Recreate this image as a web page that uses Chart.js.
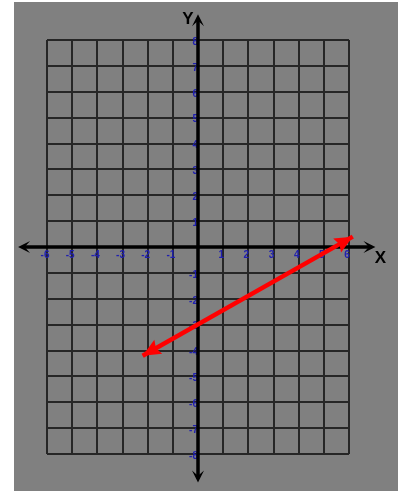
<!DOCTYPE html>
<html>
<head>
<meta charset="utf-8">
<script src="https://cdn.jsdelivr.net/npm/chart.js@4.4.1/dist/chart.umd.min.js"></script>
<style>
html,body{margin:0;padding:0;background:#ffffff;}
canvas{display:block;}
</style>
</head>
<body>
<canvas id="c" width="403" height="491"></canvas>
<script>
// ---- data ----
const xTicks = [-6,-5,-4,-3,-2,-1,0,1,2,3,4,5,6];
const yTicks = [-8,-7,-6,-5,-4,-3,-2,-1,0,1,2,3,4,5,6,7,8];
const lineX = [-2.2, 6.15];
const lineY = [-4.2, 0.4];
const axisLabels = ['X','Y'];

const linePoints = lineX.map((x,i)=>({x:x, y:lineY[i]}));

const bgPlugin = {
  id:'bg',
  beforeDraw(chart){
    const ctx = chart.ctx;
    ctx.save();
    ctx.fillStyle = '#ffffff';
    ctx.fillRect(0,0,chart.width,chart.height);
    ctx.fillStyle = '#808080';
    ctx.fillRect(14,2,384,chart.height-2);
    ctx.restore();
  }
};

function arrowHead(ctx, tx, ty, angle, L, W, notch){
  ctx.save();
  ctx.translate(tx, ty);
  ctx.rotate(angle);
  ctx.beginPath();
  ctx.moveTo(0,0);
  ctx.lineTo(-L,-W);
  ctx.lineTo(-L*notch,0);
  ctx.lineTo(-L,W);
  ctx.closePath();
  ctx.fill();
  ctx.restore();
}

const axesPlugin = {
  id:'axesArrows',
  beforeDatasetsDraw(chart){
    const ctx = chart.ctx;
    const xs = chart.scales.x, ys = chart.scales.y;
    const x0 = xs.getPixelForValue(0), y0 = ys.getPixelForValue(0);
    const xl = xs.getPixelForValue(-7.15), xr = xs.getPixelForValue(7.05);
    const yt = ys.getPixelForValue(9.0), yb = ys.getPixelForValue(-9.1);
    ctx.save();
    ctx.strokeStyle = '#000000';
    ctx.fillStyle = '#000000';
    ctx.lineWidth = 3.5;
    ctx.beginPath();
    ctx.moveTo(xl+4, y0); ctx.lineTo(xr-4, y0);
    ctx.moveTo(x0, yt+4); ctx.lineTo(x0, yb-4);
    ctx.stroke();
    arrowHead(ctx, xr, y0, 0, 12, 6, 0.55);
    arrowHead(ctx, xl, y0, Math.PI, 12, 6, 0.55);
    arrowHead(ctx, x0, yt, -Math.PI/2, 12, 6, 0.55);
    arrowHead(ctx, x0, yb, Math.PI/2, 12, 6, 0.55);
    // axis names
    ctx.font = 'bold 17px Arial, "Liberation Sans", sans-serif';
    ctx.textBaseline = 'middle';
    ctx.textAlign = 'center';
    ctx.fillText(axisLabels[0], xr + 5, y0 + 11);
    ctx.fillText(axisLabels[1], x0 - 10, yt + 5);
    ctx.restore();
  },
  afterDatasetsDraw(chart){
    const ctx = chart.ctx;
    const pts = chart.getDatasetMeta(0).data;
    if(pts.length < 2) return;
    const a = pts[0], b = pts[pts.length-1];
    const ang = Math.atan2(b.y - a.y, b.x - a.x);
    ctx.save();
    ctx.fillStyle = '#ff0000';
    arrowHead(ctx, b.x, b.y, ang, 18, 8, 0.85);
    arrowHead(ctx, a.x, a.y, ang + Math.PI, 18, 8, 0.85);
    ctx.restore();
  }
};

const tickFont = {family:'Arial, "Liberation Sans", sans-serif', size:10, weight:'bold'};
const tickColor = '#2020b0';

new Chart(document.getElementById('c'), {
  type:'scatter',
  data:{
    datasets:[{
      data: linePoints,
      showLine:true,
      borderColor:'#ff0000',
      borderWidth:4.5,
      pointRadius:0,
      clip:false
    }]
  },
  options:{
    responsive:false,
    devicePixelRatio:1,
    animation:false,
    layout:{padding:{left:47, right:54, top:40, bottom:37}},
    plugins:{legend:{display:false}, tooltip:{enabled:false}},
    scales:{
      x:{
        type:'linear',
        min:xTicks[0], max:xTicks[xTicks.length-1],
        position:{y:0},
        afterBuildTicks(s){ s.ticks = xTicks.map(v=>({value:v})); },
        ticks:{
          callback:v=> v===0 ? '' : String(v),
          color:tickColor, font:tickFont, padding:2, labelOffset:-2,
          autoSkip:false, maxRotation:0
        },
        grid:{color:'#262626', lineWidth:2, drawTicks:false},
        border:{display:false}
      },
      y:{
        type:'linear',
        min:yTicks[0], max:yTicks[yTicks.length-1],
        position:{x:0},
        afterBuildTicks(s){ s.ticks = yTicks.map(v=>({value:v})); },
        ticks:{
          callback:v=> v===0 ? '' : String(v),
          color:tickColor, font:tickFont, padding:6, labelOffset:2,
          autoSkip:false
        },
        grid:{color:'#262626', lineWidth:2, drawTicks:false},
        border:{display:false}
      }
    }
  },
  plugins:[bgPlugin, axesPlugin]
});
</script>
</body>
</html>
